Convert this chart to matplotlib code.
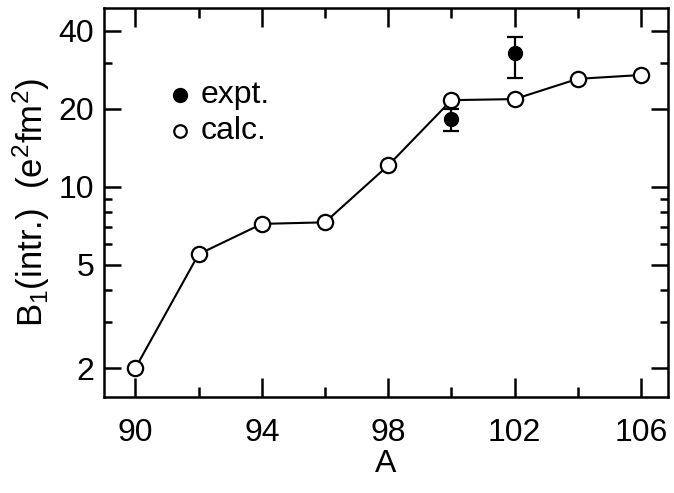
import matplotlib
matplotlib.use("Agg")
import matplotlib.pyplot as plt
from matplotlib.ticker import FixedLocator, NullFormatter, LogLocator

plt.rcParams['font.family'] = ['Liberation Sans', 'DejaVu Sans']
plt.rcParams['mathtext.fontset'] = 'custom'
plt.rcParams['mathtext.rm'] = 'Liberation Sans'
plt.rcParams['mathtext.it'] = 'Liberation Sans'

# calculated B1 values
calc_A = [90, 92, 94, 96, 98, 100, 102, 104, 106]
calc_B = [2.0, 5.5, 7.2, 7.3, 12.1, 21.6, 21.8, 26.1, 27.0]

# experimental values with asymmetric errors
expt_A = [100, 102]
expt_B = [18.2, 32.7]
expt_lo = [16.4, 26.3]
expt_hi = [20.0, 38.0]

x_major = [90, 94, 98, 102, 106]
x_minor = [92, 96, 100, 104]
y_major = [2, 5, 10, 20, 40]

fig = plt.figure(figsize=(6.74, 4.93), dpi=100)
ax = fig.add_axes([0.154, 0.195, 0.837, 0.789])

ax.plot(calc_A, calc_B, '-', color='black', lw=1.5, zorder=2)
ax.plot(calc_A, calc_B, 'o', ms=11, mfc='white', mec='black', mew=1.6, zorder=3)

err_lo = [b - l for b, l in zip(expt_B, expt_lo)]
err_hi = [h - b for b, h in zip(expt_B, expt_hi)]
ax.errorbar(expt_A, expt_B, yerr=[err_lo, err_hi], fmt='o', color='black',
            ms=10, capsize=6, elinewidth=1.6, capthick=1.6, zorder=2)

ax.set_yscale('log')
ax.set_xlim(89.0, 106.85)
ax.set_ylim(1.55, 49)

ax.xaxis.set_major_locator(FixedLocator(x_major))
ax.xaxis.set_minor_locator(FixedLocator(x_minor))
ax.yaxis.set_major_locator(FixedLocator(y_major))
ax.yaxis.set_minor_locator(LogLocator(base=10, subs=range(2, 10)))
ax.yaxis.set_minor_formatter(NullFormatter())
ax.set_yticklabels([str(v) for v in y_major])
ax.set_xticklabels([str(v) for v in x_major])

ax.tick_params(axis='both', which='both', direction='in', top=True, right=True,
               labelsize=23, width=1.8, color='black')
ax.tick_params(axis='x', which='major', length=14, pad=15)
ax.tick_params(axis='x', which='minor', length=7)
ax.tick_params(axis='y', which='major', length=12, pad=7)
ax.tick_params(axis='y', which='minor', length=5.5)
for s in ax.spines.values():
    s.set_linewidth(1.8)

ax.set_xlabel('A', fontsize=23, labelpad=1)
ax.set_ylabel(r'B$_1$(intr.)  (e$^2$fm$^2$)', fontsize=25, labelpad=5)

# legend drawn as marker + text pairs
ax.plot([91.42], [22.6], 'o', color='black', ms=10)
ax.text(92.05, 22.6, 'expt.', fontsize=23, va='center', ha='left')
ax.plot([91.42], [16.4], 'o', ms=9, mfc='white', mec='black', mew=1.6)
ax.text(92.05, 16.4, 'calc.', fontsize=23, va='center', ha='left')

fig.savefig('out.png', dpi=100)
